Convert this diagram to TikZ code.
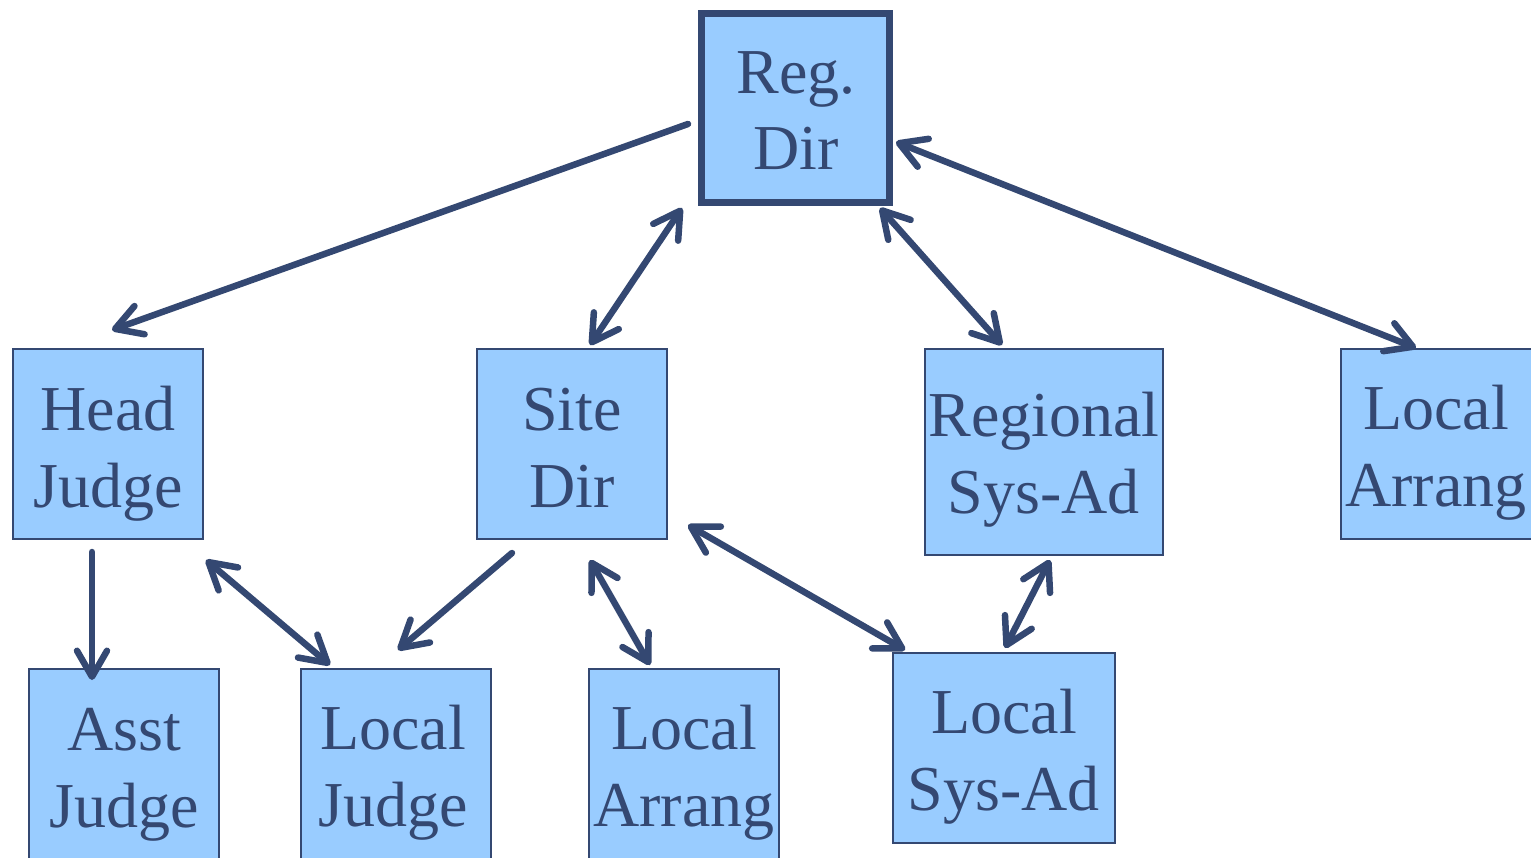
\documentclass[tikz,border=0pt]{standalone}
\usepackage{fontspec}
\setmainfont{Liberation Serif}
\usetikzlibrary{arrows.meta}
\definecolor{boxfill}{RGB}{153,204,255}
\definecolor{ink}{RGB}{52,72,114}
\begin{document}
\begin{tikzpicture}[x=1pt,y=-1pt,
  box/.style={draw=ink, fill=boxfill, line width=2pt, inner sep=0pt,
    minimum width=190pt, minimum height=190pt},
  lbl/.style={text=ink, align=center, anchor=base, inner sep=0pt,
    font=\fontsize{64}{76.5}\selectfont},
  conn/.style={draw=ink, line width=6.5pt, line cap=round, line join=round},
  tipb/.tip={Straight Barb[length=26pt,width=30pt,round]}]
\useasboundingbox (0,0) rectangle (1531,858);
% boxes
\node[box, line width=7pt, minimum width=188pt, minimum height=189pt] (rd) at (795.5,108) {};
\node[box] (hj) at (108,444) {};
\node[box] (sd) at (572,444) {};
\node[box, minimum width=238pt, minimum height=206pt] (rs) at (1044,452) {};
\node[box, minimum width=194pt] (la1) at (1438,444) {};
\node[box] (aj) at (124,764) {};
\node[box] (lj) at (396,764) {};
\node[box] (la2) at (684,764) {};
\node[box, minimum width=222pt] (ls) at (1004,748) {};
% labels (anchor = baseline of last line)
\node[lbl] (rdt) at (796,170) {Reg.\\Dir};
\node[lbl] (hjt) at (108,507) {Head\\Judge};
\node[lbl] (sdt) at (572,507) {Site\\Dir};
\node[lbl] (rst) at (1044,513) {Regional\\Sys-Ad};
\node[lbl] (la1t) at (1436,506) {Local\\Arrang};
\node[lbl] (ajt) at (124,827) {Asst\\Judge};
\node[lbl] (ljt) at (393,826) {Local\\Judge};
\node[lbl] (la2t) at (684,826) {Local\\Arrang};
\node[lbl] (lst) at (1004,810) {Local\\Sys-Ad};
% connector end points
\coordinate (a1s) at (688,124); \coordinate (a1e) at (112,330);
\coordinate (a2s) at (682,208); \coordinate (a2e) at (590,345);
\coordinate (a3s) at (880,208); \coordinate (a3e) at (1002,345);
\coordinate (a4s) at (896,142); \coordinate (a4e) at (1416,348);
\coordinate (a5s) at (92,552);  \coordinate (a5e) at (92,680);
\coordinate (a6s) at (206,560); \coordinate (a6e) at (330,665);
\coordinate (a7s) at (512,553); \coordinate (a7e) at (398,650);
\coordinate (a8s) at (590,560); \coordinate (a8e) at (650,665);
\coordinate (a9s) at (688,525); \coordinate (a9e) at (905,650);
\coordinate (a10s) at (1050,560); \coordinate (a10e) at (1005,648);
% connectors
\draw[conn, -{tipb}] (a1s) -- (a1e);
\draw[conn, {tipb}-{tipb}] (a2s) -- (a2e);
\draw[conn, {tipb}-{tipb}] (a3s) -- (a3e);
\draw[conn, {tipb}-{tipb}] (a4s) -- (a4e);
\draw[conn, -{tipb}] (a5s) -- (a5e);
\draw[conn, {tipb}-{tipb}] (a6s) -- (a6e);
\draw[conn, -{tipb}] (a7s) -- (a7e);
\draw[conn, {tipb}-{tipb}] (a8s) -- (a8e);
\draw[conn, {tipb}-{tipb}] (a9s) -- (a9e);
\draw[conn, {tipb}-{tipb}] (a10s) -- (a10e);
\end{tikzpicture}
\end{document}
